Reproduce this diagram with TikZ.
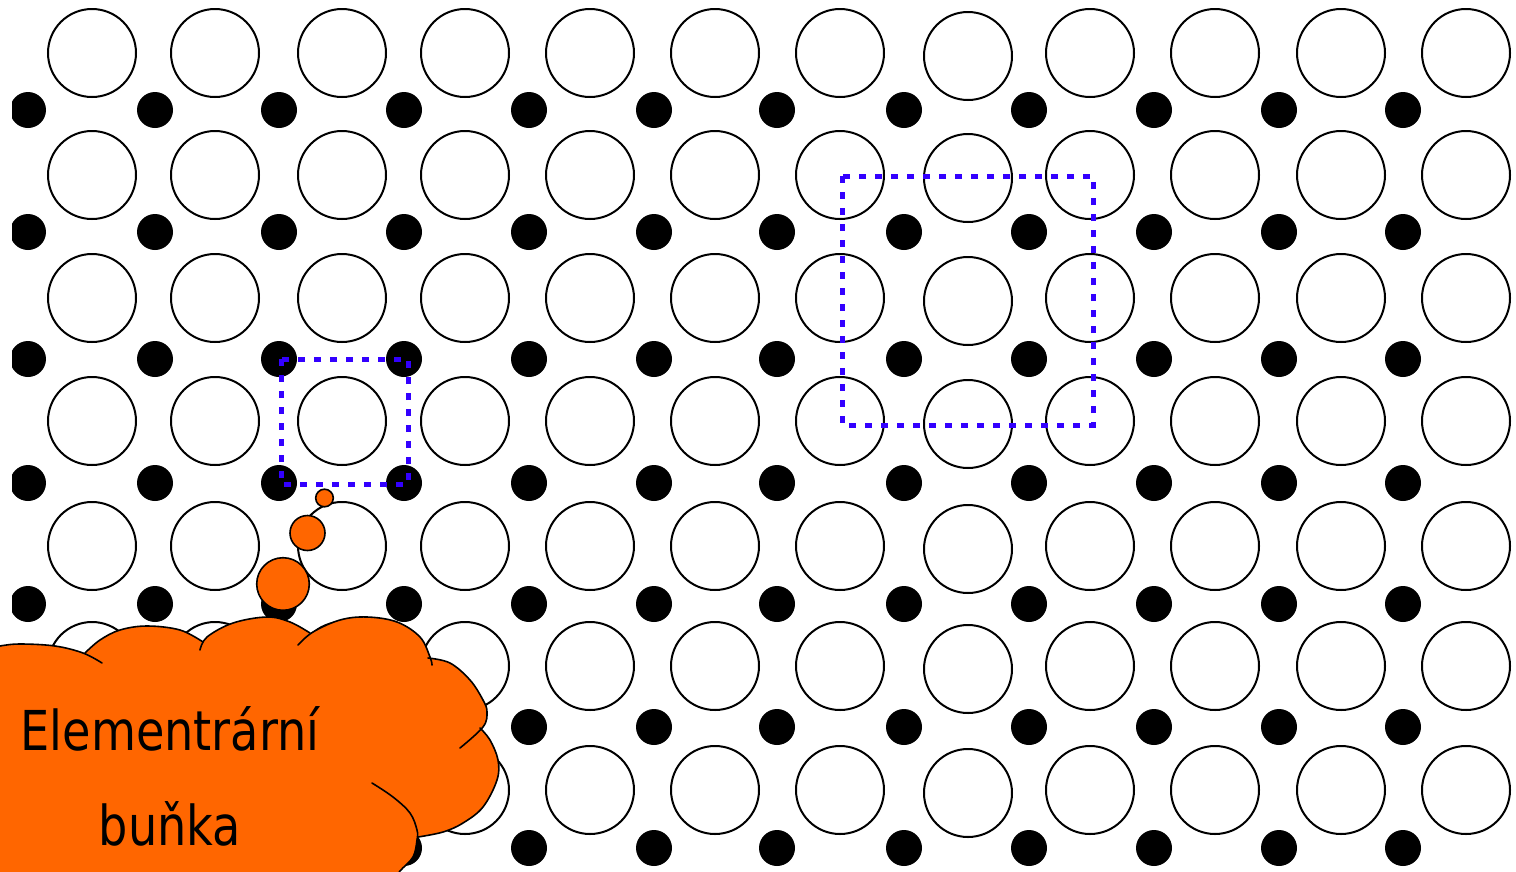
\documentclass[tikz,border=0pt]{standalone}
\usepackage{fontspec}
\newfontfamily\cloudfont[FakeStretch=0.84]{DejaVu Sans}
\definecolor{cloudorange}{RGB}{255,102,0}
\definecolor{cellblue}{RGB}{51,0,255}
\newcommand\cloudbump[1]{\fill[cloudorange] (250,760) -- plot[smooth,tension=0.6] coordinates {#1} -- cycle;}
\newcommand\cloudedge[1]{\draw[cloudline] plot[smooth,tension=0.6] coordinates {#1};}
\begin{document}
\begin{tikzpicture}[x=1pt,y=-1pt,
  atom/.style={draw=black,line width=2pt},
  ion/.style={fill=black},
  cellbox/.style={draw=cellblue,line width=5pt,dash pattern=on 7pt off 9pt},
  cloudline/.style={draw=black,line width=1.6pt,line cap=round},
  bubble/.style={draw=black,line width=1.6pt,fill=cloudorange},
  cloudlabel/.style={font=\cloudfont\fontsize{55}{60}\selectfont,inner sep=0pt,anchor=base,text=black}
]
\useasboundingbox (0,0) rectangle (1516,871);
\clip (0,0) rectangle (1516,871);
% lattice
\begin{scope}
\clip (12,0) rectangle (1516,871);
\foreach \x [count=\i] in {92,215,342,465,590,715,840,968,1090,1215,1341,1466}{
  \foreach \y in {53,175,298,421,546,666,790}{
    \pgfmathsetmacro\dy{\i==8 ? 3 : 0}
    \draw[atom] (\x,\y+\dy) circle[radius=44pt];
  }
}
\foreach \x in {28,155,279,404,529,654,777,904,1029,1154,1279,1403}{
  \foreach \y in {110,232,359,483,604,727,848}{
    \fill[ion] (\x,\y) circle[radius=18pt];
  }
}
\end{scope}
% unit cells
\draw[cellbox] (281,359) rectangle (408,484);
\draw[cellbox] (842,176) rectangle (1093,425);
% callout bubbles
\draw[bubble] (324.5,498) circle[radius=8.8pt];
\draw[bubble] (307.5,533) circle[radius=17.5pt];
\draw[bubble] (283,584) circle[radius=26.3pt];
% cloud fill
\fill[cloudorange] (-10,646) -- (85,653) -- (203,642) -- (310,633) -- (430,657) -- (481,728) -- (418,837) -- (400,871) -- (395,880) -- (-10,880) -- cycle;
\cloudbump{(-5,648) (0,646) (20,644) (55,646) (83,653) (102,663)}
\cloudbump{(85,653) (100,640) (120,630) (147,626) (180,630) (203,642)}
\cloudbump{(200,650) (207,637) (233,623) (267,617) (290,622) (310,633)}
\cloudbump{(298,645) (313,632) (340,620) (367,617) (397,622) (420,637) (430,657) (432,665)}
\cloudbump{(428,658) (450,663) (470,680) (483,700) (487,712) (483,727) (460,748)}
\cloudbump{(480,728) (490,740) (498,760) (497,780) (483,807) (463,823) (443,832) (418,837)}
\cloudbump{(372,783) (393,797) (410,813) (417,830) (417,840) (413,857) (400,871) (395,880)}
% cloud outline
\cloudedge{(-5,648) (0,646) (20,644) (55,646) (83,653) (102,663)}
\cloudedge{(85,653) (100,640) (120,630) (147,626) (180,630) (203,642)}
\cloudedge{(200,650) (207,637) (233,623) (267,617) (290,622) (310,633)}
\cloudedge{(298,645) (313,632) (340,620) (367,617) (397,622) (420,637) (430,657) (432,665)}
\cloudedge{(428,658) (450,663) (470,680) (483,700) (487,712) (483,727) (460,748)}
\cloudedge{(480,728) (490,740) (498,760) (497,780) (483,807) (463,823) (443,832) (418,837)}
\cloudedge{(372,783) (393,797) (410,813) (417,830) (417,840) (413,857) (400,871) (395,880)}
% text
\node[cloudlabel] (t1) at (170,750) {Elementrární};
\node[cloudlabel] (t2) at (170,845) {buňka};
\end{tikzpicture}
\end{document}
